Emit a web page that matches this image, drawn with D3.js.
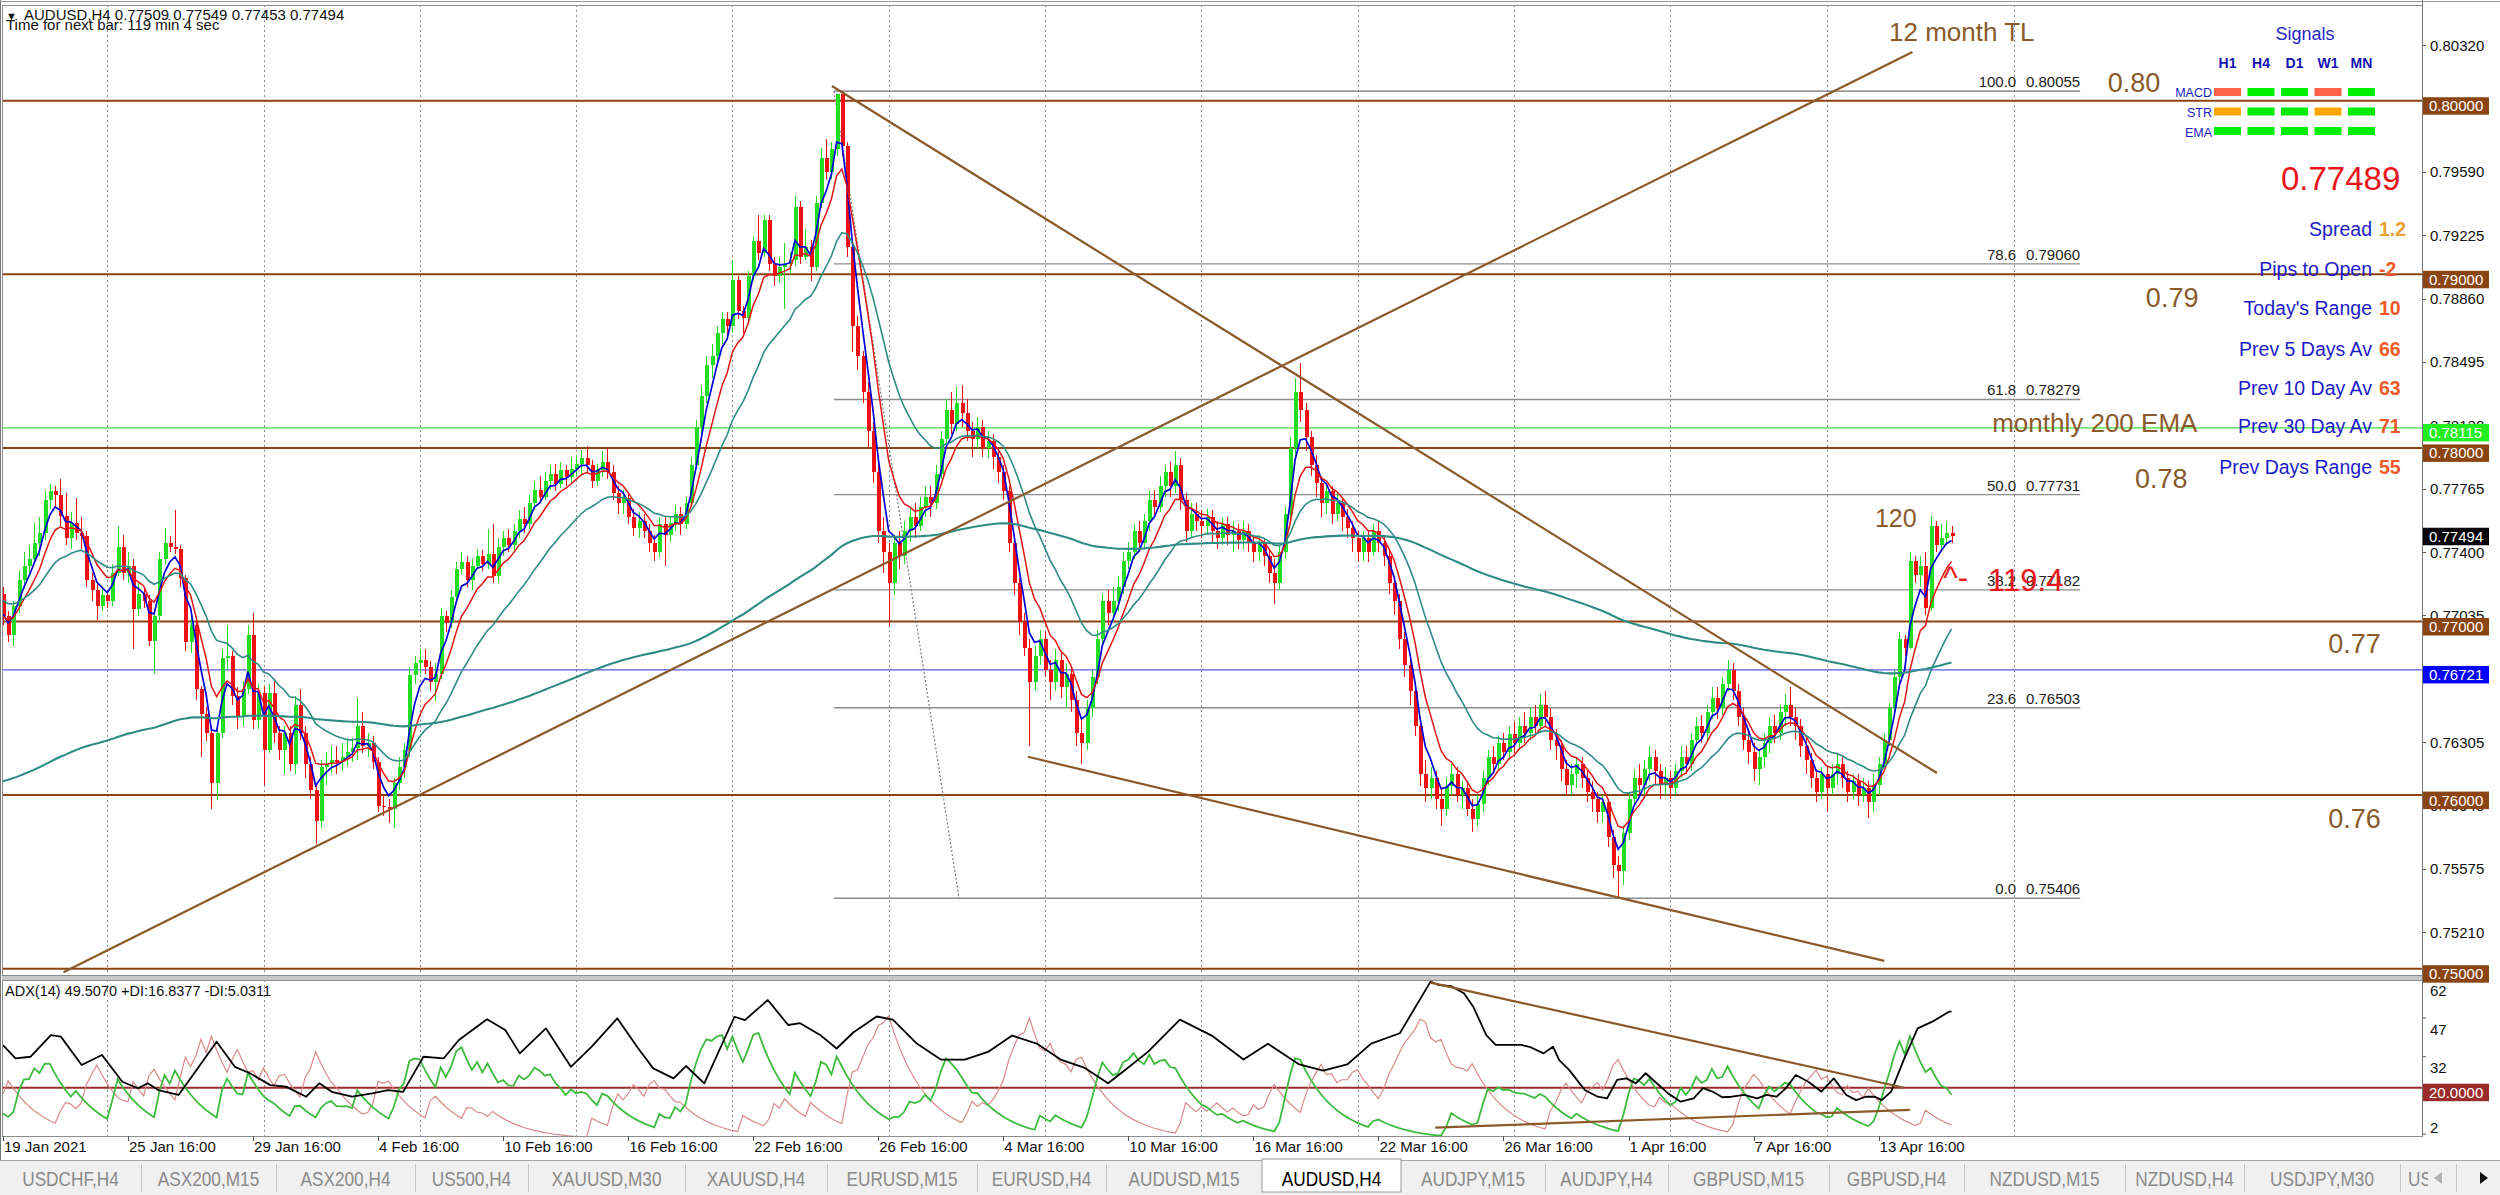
<!DOCTYPE html>
<html><head><meta charset="utf-8"><title>AUDUSD,H4</title>
<script src="https://cdn.jsdelivr.net/npm/d3@7/dist/d3.min.js"></script>
<style>
html,body{margin:0;padding:0;background:#fff;overflow:hidden}
text{font-family:"Liberation Sans",Arial,Helvetica,sans-serif}
</style></head><body>
<svg id="chart" width="2500" height="1195" xmlns="http://www.w3.org/2000/svg"></svg>
<script>
// ---------------- DATA ----------------
const symbolTitle = "AUDUSD,H4";
const headerOHLC = ["0.77509","0.77549","0.77453","0.77494"];
const timerText = "Time for next bar: 119 min 4 sec";
const adxText = "ADX(14) 49.5070 +DI:16.8377 -DI:5.0311";
const firstOpen = 0.7716;
const closes = [
.7703,.7692,.7709,.7724,.7732,.7736,.7745,.7751,.7770,.7775,
.7773,.7761,.7748,.7757,.7751,.7749,.7724,.7718,.7709,.7715,
.7712,.7728,.7743,.7728,.7732,.7707,.7716,.7712,.7689,.7703,
.7736,.7745,.7743,.7742,.7725,.7688,.7698,.7661,.7647,.7636,
.7607,.7636,.7679,.7680,.7657,.7645,.7661,.7692,.7643,.7659,
.7626,.7659,.7636,.7626,.7636,.7618,.7652,.7636,.7618,.7603,
.7585,.7616,.7618,.7620,.7619,.7622,.7625,.7627,.7640,.7628,
.7630,.7619,.7594,.7593,.7592,.7607,.7616,.7626,.7669,.7676,
.7678,.7674,.7665,.7670,.7703,.7699,.7714,.7730,.7734,.7724,
.7732,.7738,.7733,.7739,.7726,.7743,.7748,.7744,.7752,.7759,
.7756,.7768,.7776,.7772,.7781,.7785,.7779,.7787,.7783,.7788,
.7791,.7794,.7790,.7781,.7787,.7792,.7786,.7774,.7768,.7771,
.7760,.7754,.7758,.7752,.7745,.7740,.7756,.7750,.7757,.7762,
.7756,.7768,.7790,.7812,.7830,.7848,.7853,.7866,.7874,.7870,
.7897,.7879,.7875,.7899,.7919,.7912,.7931,.7906,.7899,.7904,
.7906,.7908,.7939,.7910,.7916,.7904,.7941,.7967,.7959,.7972,
.8004,.7974,.7916,.7870,.7853,.7832,.7810,.7786,.7752,.7740,
.7722,.7745,.7738,.7752,.7760,.7755,.7766,.7772,.7768,.7785,
.7805,.7822,.7814,.7826,.7820,.7810,.7805,.7812,.7800,.7804,
.7795,.7786,.7775,.7745,.7722,.7700,.7685,.7665,.7680,.7690,
.7672,.7665,.7678,.7662,.7670,.7655,.7636,.7630,.7650,.7668,
.7690,.7712,.7705,.7712,.7720,.7735,.7740,.7752,.7745,.7758,
.7770,.7766,.7778,.7786,.7778,.7790,.7770,.7752,.7762,.7758,
.7755,.7760,.7752,.7748,.7756,.7750,.7752,.7747,.7752,.7746,
.7740,.7745,.7738,.7728,.7722,.7740,.7762,.7800,.7832,.7822,
.7806,.7790,.7780,.7768,.7775,.7762,.7768,.7760,.7754,.7748,
.7740,.7748,.7740,.7752,.7745,.7738,.7722,.7712,.7690,.7675,
.7660,.7640,.7612,.7604,.7610,.7598,.7592,.7605,.7612,.7600,
.7604,.7592,.7586,.7595,.7610,.7622,.7618,.7630,.7625,.7635,
.7630,.7640,.7636,.7645,.7640,.7652,.7645,.7632,.7628,.7615,
.7606,.7612,.7618,.7610,.7602,.7598,.7590,.7596,.7576,.7560,
.7556,.7578,.7598,.7610,.7606,.7615,.7622,.7614,.7606,.7610,
.7604,.7614,.7622,.7618,.7632,.7640,.7636,.7648,.7656,.7650,
.7664,.7672,.7660,.7645,.7632,.7625,.7615,.7622,.7630,.7640,
.7636,.7648,.7652,.7645,.7640,.7628,.7620,.7610,.7602,.7612,
.7604,.7612,.7618,.7610,.7602,.7608,.7600,.7604,.7596,.7606,
.7618,.7632,.7650,.7668,.7690,.7685,.7735,.7727,.7732,.7708,
.7755,.7744,.7748,.77509,.77494];
const highs = [
.7720,.7706,.7712,.7729,.7740,.7744,.7757,.7760,.7775,.7779,
.7778,.7782,.7774,.7763,.7771,.7760,.7752,.7728,.7722,.7719,
.7718,.7733,.7755,.7750,.7740,.7736,.7722,.7720,.7715,.7707,
.7740,.7754,.7749,.7764,.7744,.7727,.7703,.7701,.7663,.7651,
.7640,.7640,.7684,.7698,.7683,.7662,.7666,.7698,.7705,.7664,
.7662,.7664,.7666,.7640,.7640,.7640,.7657,.7661,.7640,.7622,
.7606,.7620,.7625,.7628,.7628,.7630,.7632,.7633,.7656,.7648,
.7636,.7634,.7622,.7600,.7598,.7610,.7622,.7630,.7674,.7680,
.7684,.7684,.7677,.7676,.7708,.7706,.7718,.7734,.7740,.7738,
.7736,.7742,.7741,.7753,.7756,.7748,.7752,.7753,.7756,.7764,
.7766,.7773,.7781,.7784,.7786,.7790,.7791,.7792,.7790,.7795,
.7796,.7799,.7801,.7793,.7791,.7798,.7800,.7790,.7778,.7776,
.7774,.7765,.7763,.7762,.7756,.7750,.7760,.7760,.7761,.7767,
.7766,.7772,.7795,.7816,.7836,.7853,.7860,.7870,.7878,.7878,
.7908,.7899,.7882,.7902,.7922,.7934,.7934,.7934,.7910,.7910,
.7918,.7913,.7945,.7942,.7926,.7920,.7945,.7973,.7978,.7976,
.8003,.80055,.7976,.7920,.7876,.7856,.7838,.7815,.7792,.7760,
.7745,.7750,.7752,.7758,.7766,.7768,.7772,.7778,.7778,.7790,
.7810,.7828,.7832,.7835,.7836,.7828,.7815,.7818,.7816,.7810,
.7808,.7800,.7790,.7778,.7750,.7725,.7705,.7690,.7686,.7695,
.7694,.7678,.7684,.7682,.7676,.7674,.7660,.7645,.7655,.7672,
.7695,.7716,.7718,.7720,.7726,.7740,.7746,.7756,.7758,.7762,
.7775,.7776,.7784,.7790,.7792,.7798,.7794,.7774,.7768,.7768,
.7764,.7765,.7764,.7758,.7760,.7760,.7758,.7756,.7758,.7756,
.7750,.7750,.7748,.7742,.7736,.7744,.7766,.7806,.7840,.7849,
.7826,.7810,.7796,.7784,.7780,.7778,.7774,.7772,.7765,.7758,
.7752,.7752,.7752,.7756,.7758,.7750,.7742,.7726,.7716,.7694,
.7680,.7664,.7645,.7620,.7616,.7614,.7604,.7610,.7618,.7616,
.7608,.7608,.7598,.7600,.7614,.7626,.7628,.7634,.7636,.7640,
.7642,.7645,.7648,.7650,.7652,.7658,.7660,.7650,.7638,.7632,
.7620,.7618,.7622,.7622,.7614,.7608,.7602,.7600,.7598,.7580,
.7565,.7582,.7602,.7615,.7618,.7620,.7628,.7626,.7618,.7616,
.7614,.7618,.7628,.7628,.7636,.7645,.7646,.7652,.7662,.7662,
.7668,.7678,.7676,.7664,.7650,.7638,.7630,.7626,.7636,.7645,
.7646,.7652,.7658,.7662,.7650,.7644,.7634,.7624,.7615,.7616,
.7616,.7618,.7624,.7622,.7614,.7612,.7612,.7610,.7608,.7612,
.7622,.7636,.7653,.7672,.7694,.7692,.7740,.7738,.7738,.7740,
.7761,.7758,.7756,.7758,.77549];
const lows = [
.7698,.7688,.7686,.7705,.7719,.7728,.7733,.7738,.7747,.7765,
.7766,.7755,.7744,.7742,.7747,.7742,.7720,.7712,.7701,.7706,
.7708,.7709,.7726,.7724,.7722,.7684,.7703,.7708,.7686,.7670,
.7700,.7733,.7740,.7739,.7720,.7683,.7682,.7655,.7622,.7631,
.7592,.7597,.7633,.7672,.7652,.7638,.7640,.7658,.7638,.7638,
.7606,.7624,.7630,.7620,.7612,.7614,.7612,.7632,.7610,.7598,
.7572,.7581,.7606,.7613,.7612,.7614,.7617,.7619,.7620,.7624,
.7622,.7615,.7590,.7588,.7584,.7581,.7603,.7610,.7622,.7664,
.7670,.7670,.7660,.7654,.7667,.7694,.7696,.7712,.7727,.7720,
.7718,.7730,.7729,.7730,.7722,.7722,.7738,.7740,.7741,.7748,
.7751,.7753,.7764,.7768,.7770,.7776,.7775,.7777,.7778,.7780,
.7784,.7785,.7786,.7777,.7778,.7783,.7782,.7770,.7762,.7762,
.7756,.7749,.7748,.7748,.7740,.7735,.7737,.7732,.7746,.7752,
.7750,.7753,.7766,.7788,.7808,.7826,.7840,.7850,.7860,.7862,
.7866,.7874,.7866,.7872,.7896,.7908,.7910,.7902,.7893,.7895,
.7880,.7900,.7905,.7906,.7908,.7896,.7902,.7938,.7955,.7955,
.7968,.7968,.7910,.7855,.7845,.7826,.7800,.7780,.7745,.7728,
.7697,.7715,.7730,.7733,.7746,.7748,.7752,.7760,.7760,.7765,
.7782,.7800,.7808,.7810,.7812,.7804,.7795,.7800,.7795,.7794,
.7788,.7780,.7770,.7740,.7715,.7692,.7680,.7628,.7660,.7675,
.7668,.7655,.7660,.7656,.7650,.7648,.7628,.7618,.7626,.7645,
.7664,.7686,.7698,.7700,.7706,.7716,.7730,.7736,.7740,.7742,
.7752,.7760,.7763,.7772,.7772,.7774,.7764,.7746,.7748,.7752,
.7748,.7750,.7746,.7742,.7744,.7744,.7740,.7742,.7742,.7740,
.7734,.7735,.7732,.7722,.7710,.7718,.7736,.7758,.7795,.7815,
.7798,.7784,.7772,.7760,.7762,.7756,.7758,.7752,.7748,.7740,
.7734,.7735,.7734,.7738,.7740,.7732,.7716,.7704,.7684,.7668,
.7652,.7634,.7605,.7596,.7598,.7592,.7582,.7588,.7600,.7596,
.7592,.7588,.7579,.7582,.7590,.7606,.7612,.7614,.7620,.7620,
.7624,.7626,.7630,.7632,.7634,.7636,.7640,.7626,.7620,.7608,
.7600,.7600,.7604,.7604,.7596,.7590,.7584,.7584,.7570,.7552,
.7541,.7548,.7574,.7594,.7600,.7600,.7608,.7606,.7598,.7600,
.7598,.7600,.7610,.7612,.7614,.7628,.7630,.7632,.7644,.7644,
.7646,.7660,.7655,.7640,.7626,.7618,.7608,.7606,.7616,.7624,
.7630,.7632,.7640,.7640,.7632,.7622,.7612,.7604,.7596,.7598,
.7590,.7600,.7606,.7604,.7596,.7598,.7594,.7596,.7587,.7590,
.7600,.7614,.7628,.7648,.7664,.7680,.7684,.7722,.7720,.7704,
.7706,.7740,.7740,.7744,.77453];

// ADX(14) main line (bar position, value)
const adxLineBars = [0,2.4,5.3,9.2,11.1,15.1,19,22.9,25.9,27.8,29.8,33.7,36.7,41,44.5,47.4,51.3,54.3,58.2,60.7,63.1,67,70.9,73.9,76.8,80.7,84.6,87.5,92.9,96.4,99.2,104.2,109,113,117.9,121.9,124.8,128.7,131.1,134.6,140.4,142.4,146.8,150.7,153,157,160,163.2,167.7,170.8,175.4,180,184.6,189.2,193.7,198.4,203,207.5,212.1,215.2,219.8,225.9,232,238.1,242.8,248.8,253.4,258,262.6,268.1,274,275.5,277.9,280.4,282.2,284.7,286.5,288.9,291.4,293.2,295.7,297.5,298.7,300.6,303.6,306.1,307.9,309.8,311.6,313.4,315.3,317.1,319.6,322,324.5,326.3,328.1,330,331.8,334.2,336.7,338.5,340.4,342.2,344.1,346.5,349,351.4,353.8,355.7,357.5,359.3,360.6,362.4,364.8,367.5,370.3,373.6,374];
const adxLineValues = [36.5,31.4,32,40.4,39.8,28.8,32.7,22.3,19.8,21.7,19.1,17.2,25.6,37.8,28.1,25.6,21,20.4,16.5,21.7,18.4,16.5,17.8,19.1,18.4,32,31.4,38.5,46.5,42.4,33.3,43,28.1,35.9,46.9,35.3,27.5,23.6,28.4,21.7,47.5,46.2,54,44.3,45,40.2,35.2,41.4,47.6,46.4,37.1,30.9,30.9,34,40.2,37.1,30.9,27.8,21.7,26.6,34,46.4,40.2,30.9,37,29,26.6,29,37.1,41.1,61.1,59.8,59.4,56.6,51.4,40.4,36.6,36.6,36.6,35.7,33.3,35.9,30.7,26.9,19.1,16.5,15.9,23,23.6,21.7,25.6,22.3,17.8,14.6,15.9,19.8,18.5,16.3,16.5,17.2,15.9,17.2,16.5,19.8,24.9,22.3,18.5,23.6,17.2,15.2,16.5,16.5,15.2,18.5,30.7,43,45.6,49.5,49.507];

const timeLabels = ["19 Jan 2021","25 Jan 16:00","29 Jan 16:00","4 Feb 16:00","10 Feb 16:00","16 Feb 16:00","22 Feb 16:00","26 Feb 16:00","4 Mar 16:00","10 Mar 16:00","16 Mar 16:00","22 Mar 16:00","26 Mar 16:00","1 Apr 16:00","7 Apr 16:00","13 Apr 16:00"];
const timeLabelBars = [0,24,48,72,96,120,144,168,192,216,240,264,288,312,336,360];
const gridBars = [20,50,80,110,140,170,200,230,260,290,320,350,386];
const priceTicks = [0.80320,0.79590,0.79225,0.78860,0.78495,0.78130,0.77765,0.77400,0.77035,0.76305,0.75940,0.75575,0.75210];
const roundLevels = [0.80,0.79,0.78,0.77,0.76,0.75];
const monthlyEmaLevel = 0.78115;
const blueLevel = 0.76721;
const bidPrice = 0.77494;
const fibNames = ["100.0","78.6","61.8","50.0","38.2","23.6","0.0"];
const fibPrices = [0.80055,0.79060,0.78279,0.77731,0.77182,0.76503,0.75406];
const fibBars = [159.5,398.7];
const fibDiagonal = [[159.5,0.80055],[183.5,0.75406]];
const priceTrendlines = [
  [[11.6,0.7498],[366.5,0.8028]],
  [[159.1,0.80085],[371.2,0.76127]],
  [[196.7,0.76221],[361.1,0.75045]]
];
const adxTrendlines = [
  [[274.0,60.7],[364.9,20.0]],
  [[274.9,4.5],[366.0,11.4]]
];
const emaPeriods = [4,8,21,200];
const emaSeeds = [0.7705,0.7703,0.7713,0.7607];
const diSeed = {plus:10,minus:17.6,adx:38};
const adxTicks = [62,47,32,2];
const annotations = [
  {t:"12 month TL", bar:362, p:0.80344, size:26, c:"#8B5A2B"},
  {t:"0.80", bar:404, p:0.80050, size:27, c:"#8B5A2B"},
  {t:"0.79", bar:411.3, p:0.78812, size:27, c:"#8B5A2B"},
  {t:"monthly 200 EMA", bar:381.8, p:0.78092, size:26, c:"#8B5A2B"},
  {t:"0.78", bar:409.2, p:0.77769, size:27, c:"#8B5A2B"},
  {t:"0.77", bar:446.3, p:0.76818, size:27, c:"#8B5A2B"},
  {t:"0.76", bar:446.3, p:0.75810, size:27, c:"#8B5A2B"},
  {t:"120", bar:359.3, p:0.77545, size:25, c:"#8B5A2B"},
  {t:"^-", bar:372.4, p:0.77194, size:31, c:"#E8191E"},
  {t:"119.4", bar:381, p:0.77176, size:31, c:"#E8191E"}
];
const signalCols = ["H1","H4","D1","W1","MN"];
const signalRows = ["MACD","STR","EMA"];
const signalStates = [["down","up","up","down","up"],["flat","up","up","flat","up"],["up","up","up","up","up"]];
const bigPrice = "0.77489";
const infoLabels = ["Spread","Pips to Open","Today's Range","Prev 5 Days Av","Prev 10 Day Av","Prev 30 Day Av","Prev Days Range"];
const infoValues = ["1.2","-2","10","66","63","71","55"];
const tabNames = ["USDCHF,H4","ASX200,M15","ASX200,H4","US500,H4","XAUUSD,M30","XAUUSD,H4","EURUSD,M15","EURUSD,H4","AUDUSD,M15","AUDUSD,H4","AUDJPY,M15","AUDJPY,H4","GBPUSD,M15","GBPUSD,H4","NZDUSD,M15","NZDUSD,H4","USDJPY,M30","US"];
const activeTab = "AUDUSD,H4";

// ---------------- LAYOUT ----------------
const BAR = 5.21;
const plot = {l:2, r:2422, t:5, b:975};
const adxBox = {t:980, b:1136};
const tabEdges = [0,141,276,415,528,685,827,977,1106,1262,1401,1545,1668,1829,1964,2125,2244,2400,2456];
const BROWN = "#8B4513", TLBROWN = "#8B5A2B";

const svg = d3.select('#chart');
const n = closes.length;
const x = d3.scaleLinear().domain([0, n-1]).range([3, 3+(n-1)*BAR]);
const y = d3.scaleLinear().domain([0.80, 0.75]).range([100.7, 968.7]);
const ya = d3.scaleLinear().domain([20, 60]).range([1087.7, 984.5]);

const opens = closes.map((c,i)=> i===0 ? firstOpen : closes[i-1]);
const hh = highs.map((h,i)=>Math.max(h, opens[i], closes[i]));
const ll = lows.map((l,i)=>Math.min(l, opens[i], closes[i]));

function ema(vals, period, seed){
  const a = 2/(period+1); let e = seed;
  return vals.map(v => (e = e + a*(v-e)));
}
// MT4-style directional indicators (+DI / -DI) from the candles
function mt4DI(h,l,c,period,seed){
  const a=2/(period+1); let P=seed.plus, M=seed.minus;
  const plus=[P], minus=[M];
  for(let i=1;i<c.length;i++){
    let pdm=h[i]-h[i-1], mdm=l[i-1]-l[i];
    if(pdm<0)pdm=0; if(mdm<0)mdm=0;
    if(Math.abs(pdm-mdm)<1e-9){pdm=0;mdm=0;} else if(pdm<mdm) pdm=0; else mdm=0;
    const tr=Math.max(h[i]-l[i],Math.abs(h[i]-c[i-1]),Math.abs(l[i]-c[i-1]));
    const ps=tr>0?100*pdm/tr:0, ms=tr>0?100*mdm/tr:0;
    P+=a*(ps-P); M+=a*(ms-M);
    plus.push(P); minus.push(M);
  }
  return {plus,minus};
}

const defs = svg.append('defs');
defs.append('clipPath').attr('id','clipMain').append('rect')
  .attr('x',plot.l).attr('y',plot.t).attr('width',plot.r-plot.l).attr('height',plot.b-plot.t);
defs.append('clipPath').attr('id','clipAdx').append('rect')
  .attr('x',plot.l).attr('y',adxBox.t).attr('width',plot.r-plot.l).attr('height',adxBox.b-adxBox.t);
defs.append('clipPath').attr('id','clipTabU').append('rect')
  .attr('x',tabEdges[17]).attr('y',1160).attr('width',tabEdges[18]-tabEdges[17]-28).attr('height',35);

svg.append('rect').attr('width',2500).attr('height',1195).attr('fill','#fff');

// grid
const gridG = svg.append('g').attr('stroke','#8a8a8a').attr('stroke-dasharray','2,3').attr('stroke-width',1);
gridBars.forEach(b=>{
  const xx = Math.round(x(b))+0.5;
  gridG.append('line').attr('x1',xx).attr('x2',xx).attr('y1',plot.t).attr('y2',plot.b);
  gridG.append('line').attr('x1',xx).attr('x2',xx).attr('y1',adxBox.t).attr('y2',adxBox.b);
});

// ------------- MAIN PANEL -------------
const main = svg.append('g').attr('clip-path','url(#clipMain)');
const hline = (p, color, w) => main.append('line').attr('x1',plot.l).attr('x2',plot.r)
  .attr('y1',y(p)).attr('y2',y(p)).attr('stroke',color).attr('stroke-width',w);
roundLevels.forEach(p=>hline(p, BROWN, 2));
hline(monthlyEmaLevel, "#44DD44", 1.2);
hline(blueLevel, "#5858E8", 1.2);

// fibonacci
const fibG = main.append('g');
fibPrices.forEach((p,k)=>{
  fibG.append('line').attr('x1',x(fibBars[0])).attr('x2',x(fibBars[1]))
    .attr('y1',y(p)).attr('y2',y(p)).attr('stroke', k===0?'#707070':'#8c8c8c').attr('stroke-width',1.4);
  fibG.append('text').attr('x',x(fibBars[1])-64).attr('y',y(p)-4).attr('text-anchor','end')
    .attr('font-size',15).attr('fill','#222').text(fibNames[k]);
  fibG.append('text').attr('x',x(fibBars[1])).attr('y',y(p)-4).attr('text-anchor','end')
    .attr('font-size',15).attr('fill','#222').text(d3.format('.5f')(p));
});
main.append('line').attr('x1',x(fibDiagonal[0][0])).attr('y1',y(fibDiagonal[0][1]))
  .attr('x2',x(fibDiagonal[1][0])).attr('y2',y(fibDiagonal[1][1]))
  .attr('stroke','#7a7a7a').attr('stroke-width',1.2).attr('stroke-dasharray','2,2');

// candles
const cg = main.append('g').attr('shape-rendering','crispEdges');
closes.forEach((c,i)=>{
  const o=opens[i], up = c>=o, col = up ? '#22DD22' : '#EE1111';
  const xc = Math.round(x(i));
  cg.append('line').attr('x1',xc+0.5).attr('x2',xc+0.5).attr('y1',y(hh[i])).attr('y2',y(ll[i])).attr('stroke',col).attr('stroke-width',1);
  const top = y(Math.max(o,c)), bot = y(Math.min(o,c));
  cg.append('rect').attr('x',xc-1).attr('width',4).attr('y',top).attr('height',Math.max(1.2,bot-top)).attr('fill',col);
});

// moving averages
const emaColors = ['#0000D8','#E01515','#2E8C85','#2E8C85'];
const emaWidths = [1.7,1.5,1.6,2.1];
emaPeriods.forEach((p,k)=>{
  const vals = ema(closes, p, emaSeeds[k]);
  main.append('path').attr('d', d3.line().x((d,i)=>x(i)).y(d=>y(d))(vals))
    .attr('fill','none').attr('stroke',emaColors[k]).attr('stroke-width',emaWidths[k]);
});

// trendlines
priceTrendlines.forEach(tl=>{
  main.append('line').attr('x1',x(tl[0][0])).attr('y1',y(tl[0][1])).attr('x2',x(tl[1][0])).attr('y2',y(tl[1][1]))
    .attr('stroke',TLBROWN).attr('stroke-width',2.2);
});

// annotations
annotations.forEach(a=>{
  main.append('text').attr('x',x(a.bar)).attr('y',y(a.p)).attr('font-size',a.size).attr('fill',a.c).text(a.t);
});

// signals panel
svg.append('text').attr('x',2305).attr('y',40).attr('text-anchor','middle').attr('font-size',18).attr('fill','#2626C8').text('Signals');
const sigColor = {up:'#00EE00', down:'#FF6347', flat:'#FFA500'};
signalCols.forEach((c,j)=>{
  svg.append('text').attr('x',2227.5+j*33.5).attr('y',68).attr('text-anchor','middle').attr('font-size',14)
    .attr('font-weight','bold').attr('fill','#1414B4').text(c);
});
signalRows.forEach((r,k)=>{
  svg.append('text').attr('x',2212).attr('y',96.5+k*20).attr('text-anchor','end').attr('font-size',12.5).attr('fill','#2020C0').text(r);
  signalStates[k].forEach((s,j)=>{
    svg.append('rect').attr('x',2214+j*33.5).attr('y',88+k*19.5).attr('width',27).attr('height',8).attr('fill',sigColor[s]);
  });
});
svg.append('text').attr('x',2281).attr('y',190).attr('font-size',33).attr('fill','#E8161B').text(bigPrice);
const infoY = [235.5,276,315,355.5,394.5,433,474];
infoLabels.forEach((t,k)=>{
  svg.append('text').attr('x',2372).attr('y',infoY[k]).attr('text-anchor','end').attr('font-size',19.5).attr('fill','#1C1CC8').text(t);
  svg.append('text').attr('x',2379).attr('y',infoY[k]).attr('font-size',19.5).attr('font-weight','bold')
    .attr('fill', k===0 ? '#EBA032' : '#F05A28').text(infoValues[k]);
});

// ------------- ADX PANEL -------------
const di = mt4DI(hh, ll, closes, 14, diSeed);
const adxG = svg.append('g').attr('clip-path','url(#clipAdx)');
adxG.append('line').attr('x1',plot.l).attr('x2',plot.r).attr('y1',ya(20)).attr('y2',ya(20)).attr('stroke','#9B2C2C').attr('stroke-width',2);
const la = d3.line().x((d,i)=>x(i)).y(d=>ya(d));
adxG.append('path').attr('d',la(di.minus)).attr('fill','none').attr('stroke','#D98A8A').attr('stroke-width',1.2);
adxG.append('path').attr('d',la(di.plus)).attr('fill','none').attr('stroke','#3EBB3E').attr('stroke-width',1.8);
const adxPts = adxLineBars.map((b,k)=>[x(b), ya(adxLineValues[k])]);
adxG.append('path').attr('d',d3.line()(adxPts)).attr('fill','none').attr('stroke','#000').attr('stroke-width',1.8).attr('stroke-linejoin','round');
adxTrendlines.forEach(tl=>{
  adxG.append('line').attr('x1',x(tl[0][0])).attr('y1',ya(tl[0][1])).attr('x2',x(tl[1][0])).attr('y2',ya(tl[1][1]))
    .attr('stroke',TLBROWN).attr('stroke-width',2.2);
});
svg.append('text').attr('x',5).attr('y',996).attr('font-size',14.5).attr('fill','#111').text(adxText);

// panel frames
svg.append('rect').attr('x',plot.l+0.5).attr('y',plot.t+0.5).attr('width',plot.r-plot.l).attr('height',plot.b-plot.t)
  .attr('fill','none').attr('stroke','#8e8e8e').attr('stroke-width',1);
svg.append('rect').attr('x',plot.l).attr('y',plot.b+1).attr('width',plot.r-plot.l).attr('height',adxBox.t-plot.b-1).attr('fill','#c8c8c8');
svg.append('rect').attr('x',plot.l+0.5).attr('y',adxBox.t+0.5).attr('width',plot.r-plot.l).attr('height',adxBox.b-adxBox.t)
  .attr('fill','none').attr('stroke','#8e8e8e').attr('stroke-width',1);
svg.append('line').attr('x1',0.5).attr('x2',0.5).attr('y1',0).attr('y2',1160).attr('stroke','#777');
svg.append('line').attr('x1',0).attr('x2',2500).attr('y1',1.5).attr('y2',1.5).attr('stroke','#999');

// ------------- PRICE AXIS -------------
const ax = svg.append('g');
priceTicks.forEach(p=>{
  ax.append('line').attr('x1',plot.r).attr('x2',plot.r+4).attr('y1',Math.round(y(p))+0.5).attr('y2',Math.round(y(p))+0.5).attr('stroke','#555');
  ax.append('text').attr('x',2430).attr('y',y(p)+5.5).attr('font-size',15).attr('fill','#111').text(d3.format('.5f')(p));
});
const boxes = roundLevels.map(p=>({p, bg:BROWN, dy:-3.5}))
  .concat([{p:monthlyEmaLevel,bg:'#22EE22',dy:-4},{p:blueLevel,bg:'#0000FF',dy:-4},{p:bidPrice,bg:'#000',dy:-8}]);
boxes.forEach(b=>{
  const top = y(b.p)+b.dy;
  ax.append('rect').attr('x',2423).attr('y',top).attr('width',66).attr('height',17.5).attr('fill',b.bg);
  ax.append('text').attr('x',2429).attr('y',top+14).attr('font-size',15).attr('fill','#fff').text(d3.format('.5f')(b.p));
});
// ADX axis
adxTicks.forEach(v=>{
  const yy = ya(v);
  if (yy>=adxBox.t && yy<=adxBox.b) ax.append('line').attr('x1',plot.r).attr('x2',plot.r+4).attr('y1',yy).attr('y2',yy).attr('stroke','#555');
  ax.append('text').attr('x',2430).attr('y',Math.min(Math.max(yy+11,988),1127)+5.5).attr('font-size',15).attr('fill','#111').text(v);
});
ax.append('rect').attr('x',2423).attr('y',ya(20)-4).attr('width',66).attr('height',17.5).attr('fill','#9B2C2C');
ax.append('text').attr('x',2429).attr('y',ya(20)+10).attr('font-size',15).attr('fill','#fff').text('20.0000');
svg.append('line').attr('x1',plot.r+0.5).attr('x2',plot.r+0.5).attr('y1',0).attr('y2',adxBox.b).attr('stroke','#777');

// ------------- TIME AXIS -------------
timeLabels.forEach((t,k)=>{
  const xx = x(timeLabelBars[k]);
  svg.append('line').attr('x1',Math.round(xx)+0.5).attr('x2',Math.round(xx)+0.5).attr('y1',adxBox.b).attr('y2',adxBox.b+5).attr('stroke','#555');
  svg.append('text').attr('x',xx+1).attr('y',1152).attr('font-size',15).attr('fill','#111').text(t);
});

// ------------- HEADER -------------
svg.append('text').attr('x',6).attr('y',20).attr('font-size',11).attr('fill','#111').text('▼');
svg.append('text').attr('x',24).attr('y',20).attr('font-size',15).attr('fill','#111')
  .text(symbolTitle + "  " + headerOHLC.join(" "));
svg.append('text').attr('x',6).attr('y',30).attr('font-size',15).attr('fill','#111').text(timerText);

// ------------- TABS -------------
const tabs = svg.append('g');
tabs.append('rect').attr('x',0).attr('y',1160).attr('width',2500).attr('height',35).attr('fill','#F0F0F0');
tabs.append('line').attr('x1',0).attr('x2',2500).attr('y1',1160.5).attr('y2',1160.5).attr('stroke','#A8A8A8');
tabNames.forEach((name,k)=>{
  const x0 = tabEdges[k], x1 = tabEdges[k+1];
  const active = name===activeTab;
  if (active) {
    tabs.append('rect').attr('x',x0).attr('y',1159).attr('width',x1-x0).attr('height',33).attr('fill','#fff').attr('stroke','#999');
  } else {
    tabs.append('line').attr('x1',x1+0.5).attr('x2',x1+0.5).attr('y1',1164).attr('y2',1192).attr('stroke','#C4C4C4');
  }
  const g = tabs.append('g');
  if (k===tabNames.length-1) g.attr('clip-path','url(#clipTabU)');
  const cx = k===tabNames.length-1 ? x0+8 : (x0+x1)/2;
  g.append('text').attr('transform',`translate(${cx},1186) scale(0.82,1)`)
    .attr('text-anchor', k===tabNames.length-1 ? 'start' : 'middle')
    .attr('font-size',21).attr('fill', active ? '#000' : '#8A8A8A').text(name);
});
tabs.append('path').attr('d','M2442,1172 L2434,1178 L2442,1184 Z').attr('fill','#B0B0B0');
tabs.append('path').attr('d','M2480,1172 L2488,1178 L2480,1184 Z').attr('fill','#111');
</script>
</body></html>
